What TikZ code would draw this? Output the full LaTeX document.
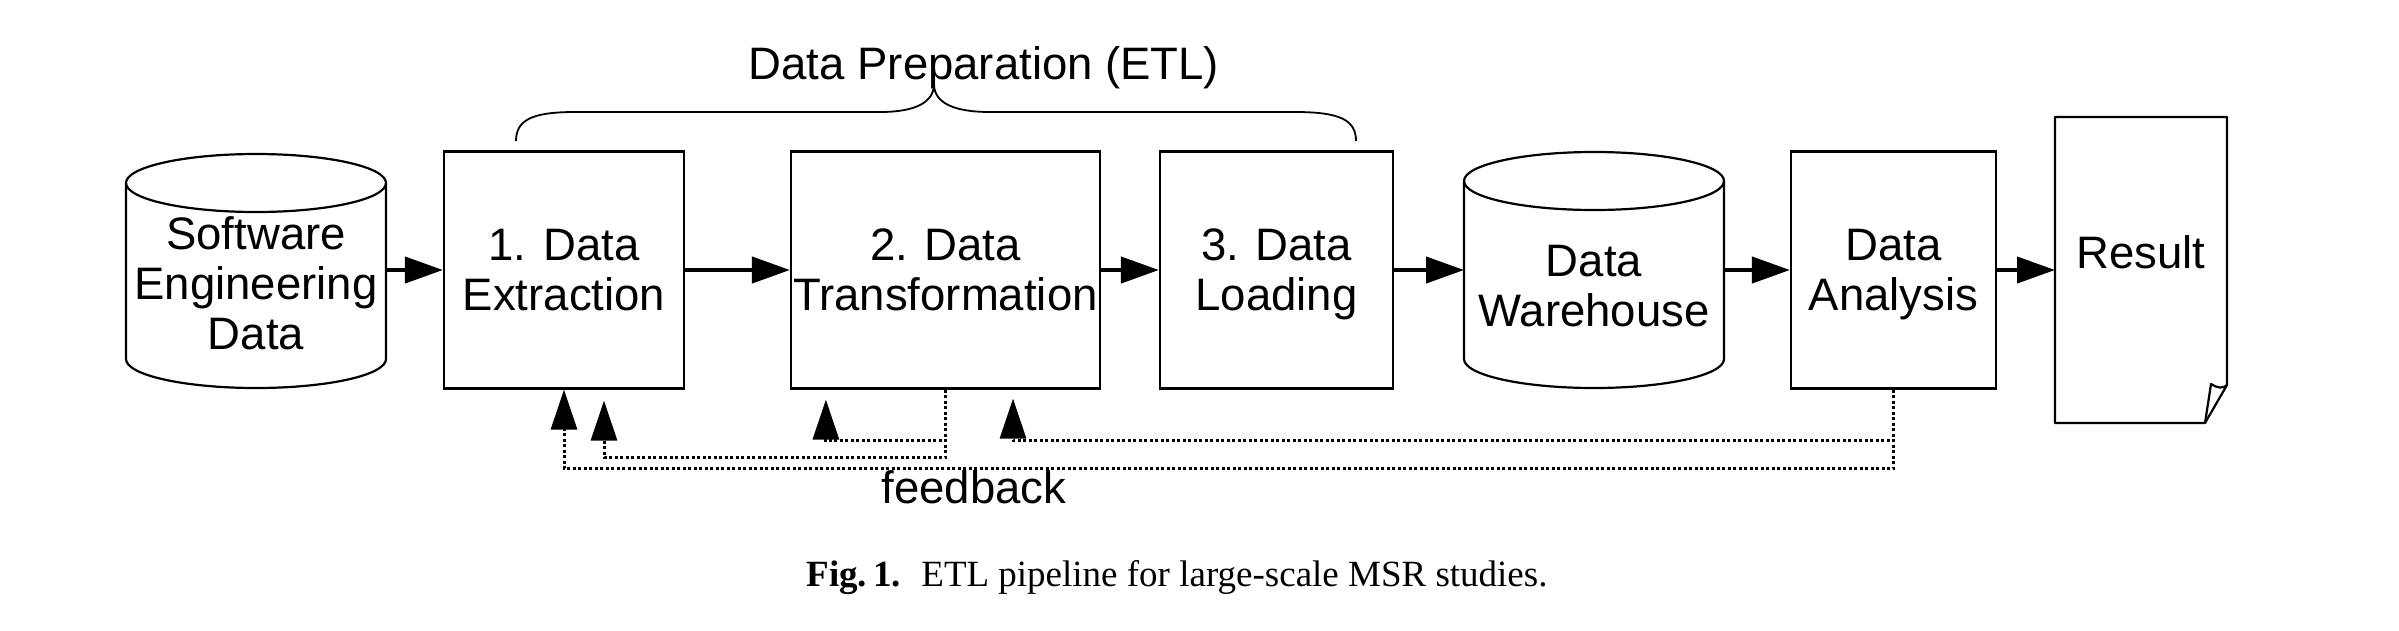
\documentclass[tikz,border=0pt]{standalone}
\usepackage{fontspec}
\setmainfont{Liberation Sans}
\newfontfamily\capfont{Liberation Serif}
\usetikzlibrary{arrows.meta,calc}
\newcommand\myTop{\rule{0pt}{42pt}}
\newcommand\myBot{\rule[-12pt]{0pt}{12pt}}
\begin{document}
\begin{tikzpicture}[x=1pt,y=-1pt,
  ln/.style={line width=2.2pt},
  txt/.style={font=\fontsize{45.5}{50}\selectfont, align=center},
  box/.style={draw, ln, txt, inner sep=0pt, minimum height=237pt},
  ghost/.style={inner sep=0pt, outer sep=0pt},
  arr/.style={line width=4.2pt, -{Triangle[length=38pt,width=26pt]}},
  fb/.style={line width=3pt, dash pattern=on 2.9pt off 2.6pt, -{Triangle[length=40pt,width=26pt]}}
]
\fill[white] (0,0) rectangle (2399,630);

% source cylinder
\node[ghost, minimum width=260pt, minimum height=234pt] (sed) at (256,271) {};
\draw[ln] ($(sed.north)+(0,29)$) ellipse [x radius=130pt, y radius=29pt];
\draw[ln] ($(sed.north west)+(0,29)$) -- ($(sed.south west)+(0,-29)$)
  arc[start angle=180, end angle=360, x radius=130pt, y radius=29pt]
  -- ($(sed.north east)+(0,29)$);
\node[txt] (sedt) at (256,284) {\myTop Software\\Engineering\\Data\myBot};

% process boxes
\node[box, minimum width=240pt] (ex) at (564,270) {\myTop 1. Data\\Extraction\myBot};
\node[box, minimum width=309pt] (tr) at (945.5,270) {\myTop 2. Data\\Transformation\myBot};
\node[box, minimum width=233pt] (ld) at (1276.5,270) {\myTop 3. Data\\Loading\myBot};

% warehouse cylinder
\node[ghost, minimum width=260pt, minimum height=236pt] (wh) at (1594,270) {};
\draw[ln] ($(wh.north)+(0,29)$) ellipse [x radius=130pt, y radius=29pt];
\draw[ln] ($(wh.north west)+(0,29)$) -- ($(wh.south west)+(0,-29)$)
  arc[start angle=180, end angle=360, x radius=130pt, y radius=29pt]
  -- ($(wh.north east)+(0,29)$);
\node[txt] (wht) at (1594,286) {\myTop Data\\Warehouse\myBot};

\node[box, minimum width=205pt] (an) at (1893.5,270) {\myTop Data\\Analysis\myBot};

% result document
\node[ghost, minimum width=172pt, minimum height=306pt] (res) at (2141,270) {};
\draw[ln, line join=round] (res.north west) -- (res.north east) -- ($(res.south east)+(0,-38)$)
  -- ($(res.south east)+(-22,0)$) -- (res.south west) -- cycle;
\draw[ln, line join=round] ($(res.south east)+(0,-38)$) .. controls ($(res.south east)+(-4,-34)$) and ($(res.south east)+(-10,-35)$) .. ($(res.south east)+(-16,-39)$) -- ($(res.south east)+(-22,0)$);
\node[txt, anchor=base] (rest) at (2141,268) {Result};

% main flow
\draw[arr] (sed.east |- ex.west) -- (ex.west);
\draw[arr] (ex.east) -- (tr.west);
\draw[arr] (tr.east) -- (ld.west);
\draw[arr] (ld.east) -- (wh.west);
\draw[arr] (wh.east) -- (an.west);
\draw[arr] (an.east) -- (res.west);

% brace and title
\draw[line width=1.8pt] (516,141) .. controls (516,120) and (532,112) .. (575,112) -- (880,112)
  .. controls (916,112) and (934,102) .. (934,84);
\draw[line width=1.8pt] (934,84) .. controls (934,102) and (952,112) .. (990,112) -- (1295,112)
  .. controls (1340,112) and (1356,120) .. (1356,141);
\node[txt, anchor=base] (etl) at (984,79) {Data Preparation (ETL)};

% feedback
\coordinate (t2) at ($(ex.south)+(40,11)$);
\coordinate (t3) at ($(tr.south west)+(36,10)$);
\coordinate (t4) at ($(tr.south)+(67.5,9)$);
\draw[fb] (tr.south) |- ($(t3)+(0,41)$) -- (t3);
\draw[fb] (tr.south) |- ($(t2)+(0,57)$) -- (t2);
\draw[fb] (an.south) |- ($(t4)+(0,42)$) -- (t4);
\draw[fb] (an.south) |- ($(ex.south)+(0,79)$) -- (ex.south);
\node[txt, anchor=base] (fbl) at (974,503) {feedback};

% caption
\node[anchor=base, font=\capfont\fontsize{37}{40}\selectfont] (cap) at (1177,586)
  {\textbf{Fig.\,1.}\hspace{0.55em}ETL pipeline for large-scale MSR studies.};
\end{tikzpicture}
\end{document}
